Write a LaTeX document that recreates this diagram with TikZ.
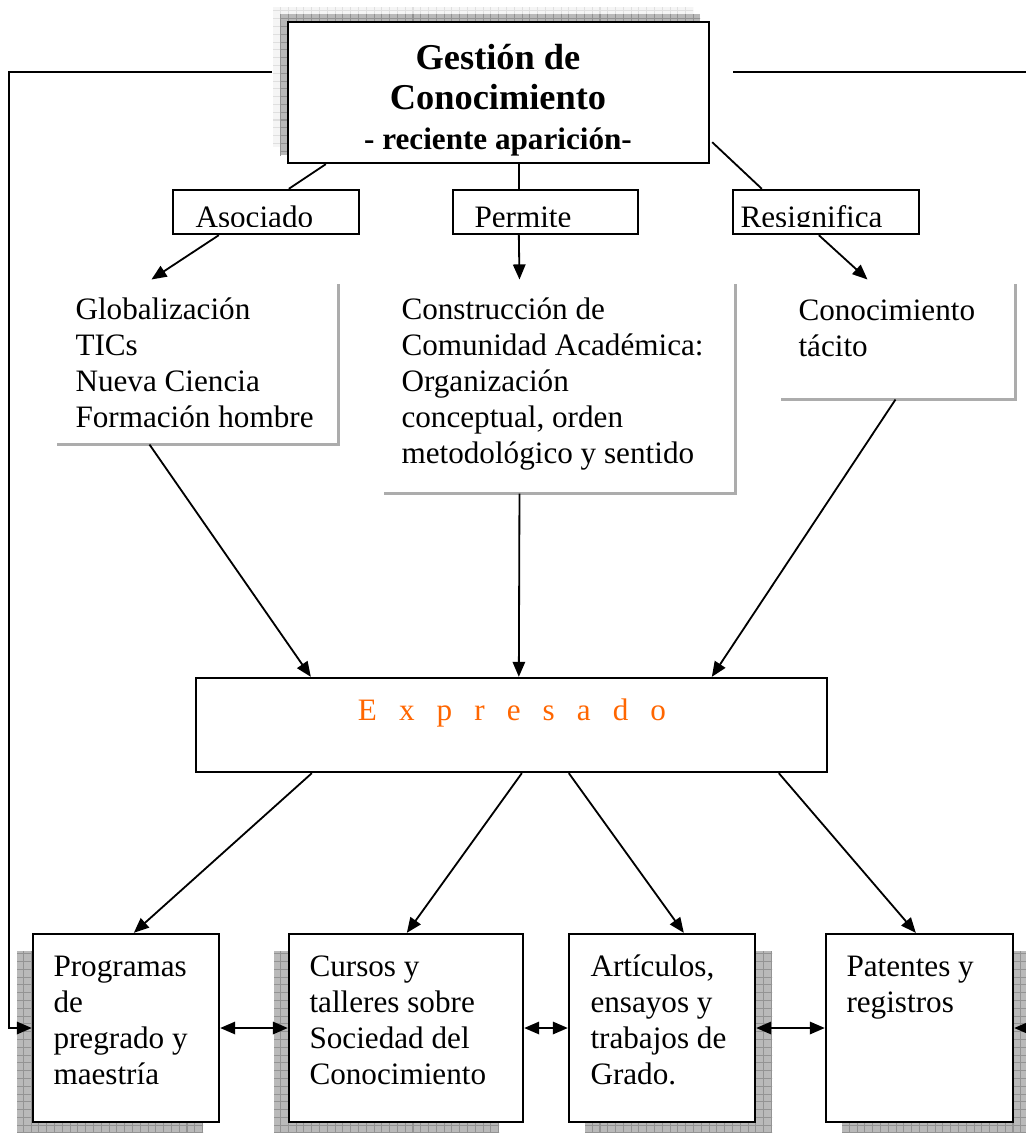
\documentclass[tikz,border=0pt]{standalone}
\usepackage{fontspec}
\setmainfont{Liberation Serif}
\usetikzlibrary{calc,fit,patterns,arrows.meta}
\definecolor{exprorange}{RGB}{255,102,0}
\tikzset{
	box/.style={draw, line width=0.9pt, fill=white, inner sep=0pt},
	openbox/.style={inner sep=0pt},
	frame/.style={draw=gray!65, line width=0.9pt},
	txt/.style={inner sep=0pt, align=left, font=\fontsize{12}{13.8}\selectfont},
	conn/.style={line width=0.7pt},
	arr/.style={conn, -{Triangle[length=5.8pt,width=4.8pt]}},
	darr/.style={conn, {Triangle[length=5.8pt,width=4.8pt]}-{Triangle[length=5.8pt,width=4.8pt]}},
	shadow/.style={fill=gray!55, postaction={pattern=grid, pattern color=gray!85}},
	shadowlight/.style={fill=gray!8, postaction={pattern=grid, pattern color=gray!25}},
}

\begin{document}
\begin{tikzpicture}[x=0.385pt, y=-0.385pt]
	%%%%% START %%%%%
	\useasboundingbox (0,0) rectangle (1025,1133);
	
	% shadows
	\fill[shadowlight] (273,7) rectangle (693,147);
	\fill[shadow] (280,14) rectangle (700,155);
	\fill[shadow] (17,951) rectangle (203,1140);
	\fill[shadow] (274,951) rectangle (499,1140);
	\fill[shadow] (585,951) rectangle (772,1140);
	\fill[shadow] (842,951) rectangle (1030,1140);
	
	% boxes
	\node[box, fit={(288,22) (709,163)}] (gestion) {};
	\node[box, fit={(173,190) (359,234)}] (asociado) {};
	\node[box, fit={(453,190) (638,234)}] (permite) {};
	\node[box, fit={(733,190) (919,234)}] (resignifica) {};
	\node[openbox, fit={(58,285) (338,444)}] (globbox) {};
	\node[openbox, fit={(385,285) (735,493)}] (constbox) {};
	\node[openbox, fit={(782,285) (1015,399)}] (tacbox) {};
	\node[box, fit={(196,678) (827,772)}] (expresado) {};
	\node[box, fit={(33,934) (219,1122)}] (programas) {};
	\node[box, fit={(289,934) (523,1122)}] (cursos) {};
	\node[box, fit={(569,934) (755,1122)}] (articulos) {};
	\node[box, fit={(826,934) (1013,1122)}] (patentes) {};
	
	\draw[frame] (globbox.north east) -- (globbox.south east) -- (globbox.south west);
	\draw[frame] (constbox.north east) -- (constbox.south east) -- (constbox.south west);
	\draw[frame] (tacbox.north east) -- (tacbox.south east) -- (tacbox.south west);
	
	% texts (base = last line)
	\node[inner sep=0pt, align=center, font=\fontsize{14}{15.4}\selectfont\bfseries] (gestiontxt) at (498,100) {Gestión de\\Conocimiento\\\fontsize{12}{15.4}\selectfont - reciente aparición-};
	\begin{scope}
		\clip (0,180) rectangle (1025,226);
		\node[txt, anchor=base west] (asociadotxt) at (195,227) {Asociado};
		\node[txt, anchor=base west] (permitetxt) at (474,227) {Permite};
		\node[txt, anchor=base west] (resignificatxt) at (740,227) {Resignifica};
	\end{scope}
	\node[txt, anchor=base west] (globtxt) at (75,427) {Globalización\\TICs\\Nueva Ciencia\\Formación hombre};
	\node[txt, anchor=base west] (consttxt) at (401,463) {Construcción de\\Comunidad Académica:\\Organización\\conceptual, orden\\metodológico y sentido};
	\node[txt, anchor=base west] (tactxt) at (798,356) {Conocimiento\\tácito};
	\node[txt, anchor=base, text=exprorange] (expresadotxt) at (512,720) {\spaceskip=8.5pt E x p r e s a d o};
	\node[txt, anchor=base west] (programastxt) at (53,1084) {Programas\\de\\pregrado y\\maestría};
	\node[txt, anchor=base west] (cursostxt) at (309,1084) {Cursos y\\talleres sobre\\Sociedad del\\Conocimiento};
	\node[txt, anchor=base west] (articulostxt) at (590,1084) {Artículos,\\ensayos y\\trabajos de\\Grado.};
	\node[txt, anchor=base west] (patentestxt) at (846,1012) {Patentes y\\registros};
	
	% connectors
	\draw[conn] ($(gestion.south west)+(39,0)$) -- ($(asociado.north west)+(117,0)$);
	\draw[conn] ($(gestion.south west)+(232,0)$) -- ($(permite.north west)+(67,0)$);
	\draw[conn] ($(gestion.south east)+(2,-22)$) -- ($(resignifica.north west)+(30,0)$);
	
	\draw[arr] ($(asociado.south west)+(47,0)$) -- ($(globbox.north west)+(94,-5)$);
	\draw[arr] ($(permite.south west)+(67,0)$) -- ($(constbox.north west)+(135,-5)$);
	\draw[arr] ($(resignifica.south west)+(87,0)$) -- ($(tacbox.north west)+(86,-5)$);
	
	\draw[arr] ($(globbox.south west)+(92,0)$) -- ($(expresado.north west)+(116,0)$);
	\draw[arr] ($(constbox.south west)+(135,0)$) -- ($(expresado.north west)+(324,0)$);
	\draw[arr] ($(tacbox.south west)+(114,0)$) -- ($(expresado.north west)+(517,0)$);
	
	\draw[arr] ($(expresado.south west)+(117,0)$) -- ($(programas.north west)+(102,0)$);
	\draw[arr] ($(expresado.south west)+(327,0)$) -- ($(cursos.north west)+(119,0)$);
	\draw[arr] ($(expresado.south west)+(374,0)$) -- ($(articulos.north west)+(116,0)$);
	\draw[arr] ($(expresado.south west)+(584,0)$) -- ($(patentes.north west)+(91,0)$);
	
	\draw[darr] (programas.east) -- (cursos.west);
	\draw[darr] (cursos.east) -- (articulos.west);
	\draw[darr] (articulos.east) -- (patentes.west);
	
	% side lines
	\coordinate (leftstart) at (272,72);
	\coordinate (rightstart) at (733,72);
	\draw[arr] (leftstart) -| ($(programas.west)+(-23,0)$) -- (programas.west);
	\draw[arr] (rightstart) -| ($(patentes.east)+(30,0)$) -- (patentes.east);
	
	%%%%% END %%%%%
\end{tikzpicture}
\end{document}
